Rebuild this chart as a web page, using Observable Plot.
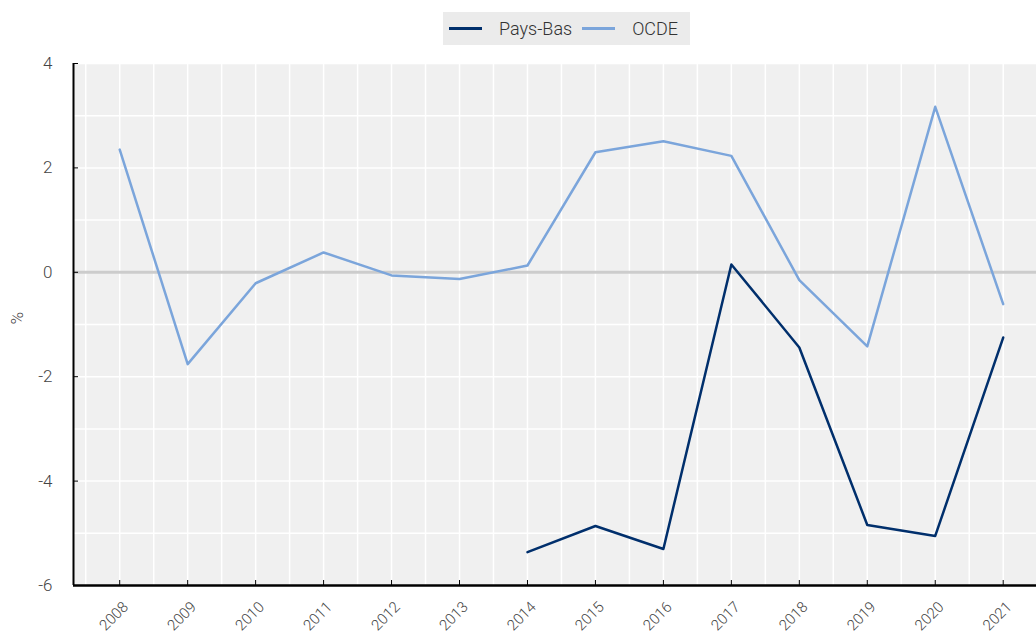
<!DOCTYPE html>
<html>
<head>
<meta charset="utf-8">
<script src="https://cdn.jsdelivr.net/npm/d3@7"></script>
<script src="https://cdn.jsdelivr.net/npm/@observablehq/plot@0.6"></script>
<style>
  html, body { margin: 0; padding: 0; background: #fff; }
  body { width: 1036px; height: 636px; overflow: hidden; font-family: Roboto, "Noto Sans", sans-serif; font-weight: 300; }
  #legend { height: 50px; position: relative; }
  #legend .box { position: absolute; left: 443px; top: 12px; width: 247px; height: 33px; background: #ebebeb; display: flex; align-items: center; white-space: nowrap; }
  #legend .sw { display: inline-block; flex-shrink: 0; width: 33px; height: 3px; margin-left: 6px; }
  #legend .lab { flex-shrink: 0; font-size: 18px; color: #333; margin-left: 17px; margin-right: 4px; font-weight: 300; }
  svg { display: block; }
</style>
</head>
<body>
<div id="legend"></div>
<div id="chart"></div>
<script>
const years = [2008, 2009, 2010, 2011, 2012, 2013, 2014, 2015, 2016, 2017, 2018, 2019, 2020, 2021];
const ocde = [2.35, -1.76, -0.21, 0.38, -0.06, -0.13, 0.13, 2.30, 2.51, 2.23, -0.15, -1.42, 3.17, -0.61];
const paysBasYears = [2014, 2015, 2016, 2017, 2018, 2019, 2020, 2021];
const paysBas = [-5.36, -4.86, -5.30, 0.15, -1.44, -4.84, -5.05, -1.25];
const seriesNames = ["Pays-Bas", "OCDE"];
const seriesColors = ["#002f6c", "#7ba5db"];
const yTicks = [-6, -4, -2, 0, 2, 4];
const yLabel = "%";

const data = [
  ...paysBasYears.map((y, i) => ({year: y, value: paysBas[i], series: seriesNames[0]})),
  ...years.map((y, i) => ({year: y, value: ocde[i], series: seriesNames[1]}))
];

const xDomain = [2007.32, 2021.49];
const yDomain = [-6, 4];
const halfYears = d3.range(2007.5, 2021.6, 0.5);
const yGrid = d3.range(-6, 4.01, 1);

// legend
const leg = document.getElementById("legend");
const box = document.createElement("div");
box.className = "box";
seriesNames.forEach((n, i) => {
  const sw = document.createElement("span");
  sw.className = "sw"; sw.style.background = seriesColors[i];
  const lab = document.createElement("span");
  lab.className = "lab"; lab.textContent = n;
  box.appendChild(sw); box.appendChild(lab);
});
leg.appendChild(box);

const font = 'Roboto, "Noto Sans", sans-serif';

const chart = Plot.plot({
  width: 1036,
  height: 586,
  marginLeft: 73,
  marginRight: 0,
  marginTop: 13,
  marginBottom: 51,
  style: {fontFamily: font, fontWeight: 300, color: "#444", background: "transparent"},
  x: {domain: xDomain, range: [73, 1036]},
  y: {domain: yDomain},
  color: {domain: seriesNames, range: seriesColors},
  marks: [
    Plot.frame({fill: "#f0f0f0", stroke: null}),
    Plot.ruleX(halfYears, {stroke: "#fff", strokeWidth: 1.5}),
    Plot.ruleY(yGrid, {stroke: "#fff", strokeWidth: 1.5}),
    Plot.ruleY([0], {stroke: "#cccccc", strokeWidth: 3}),
    Plot.lineY(data, {x: "year", y: "value", z: "series", stroke: "series", strokeWidth: 2.5}),
    Plot.axisY({ticks: yTicks, tickFormat: d => String(d), tickSize: -5, tickPadding: 26, fontSize: 17, label: null, stroke: "#000", fill: "#444"}),
    Plot.axisX({ticks: years, tickFormat: () => "", tickSize: -5, label: null, stroke: "#000"}),
    Plot.axisX({ticks: years, tickFormat: d => String(d), tickSize: 0, tickPadding: 19, tickRotate: -45, fontSize: 15, label: null, fill: "#444", dx: 6}),
    Plot.ruleX([xDomain[0]], {stroke: "#000", strokeWidth: 2}),
    Plot.ruleY([yDomain[0]], {stroke: "#000", strokeWidth: 2.5}),
    Plot.text([yLabel], {frameAnchor: "left", dx: -56, rotate: -90, fontSize: 17, fill: "#444"})
  ]
});
document.getElementById("chart").appendChild(chart);
</script>
</body>
</html>
